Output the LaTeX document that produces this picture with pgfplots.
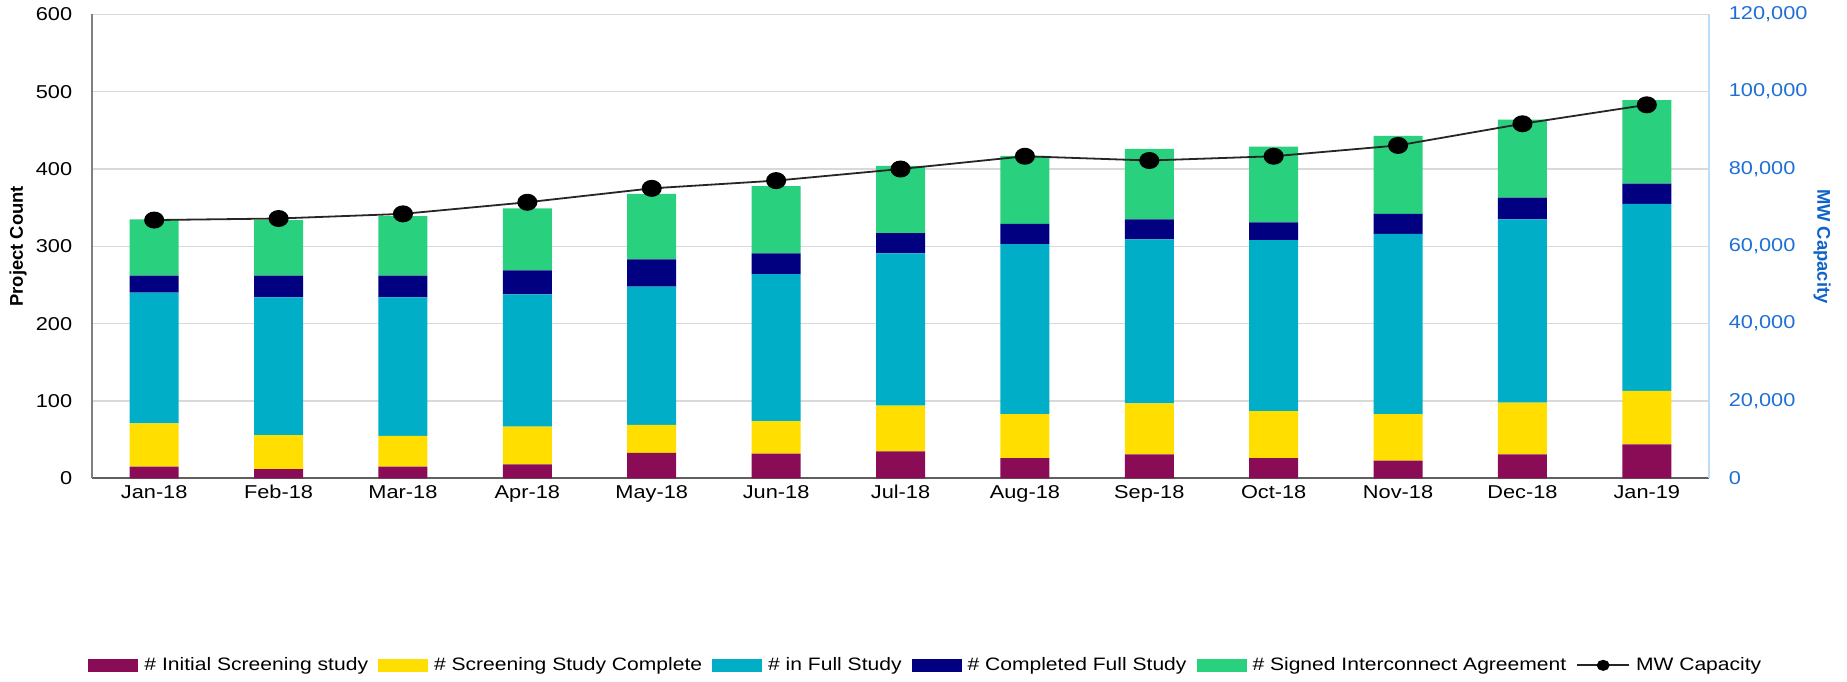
\documentclass[border=0pt]{standalone}
\usepackage{fontspec}
\setmainfont{Liberation Sans}[FakeStretch=1.17]
\newfontfamily\plainsans{Liberation Sans}
\usepackage{pgfplots}
\usepackage{pgfplotstable}
\pgfplotsset{compat=1.18}

\definecolor{cmag}{HTML}{8B0C56}
\definecolor{cyel}{HTML}{FFDE00}
\definecolor{ccyan}{HTML}{00AEC8}
\definecolor{cnavy}{HTML}{000080}
\definecolor{cgreen}{HTML}{29D07E}
\definecolor{gridgray}{HTML}{D9D9D9}
\definecolor{axisgray}{HTML}{5F5F5F}
\definecolor{lineblue}{HTML}{BDDDF7}
\definecolor{tickblue}{HTML}{1F6FD6}
\definecolor{labblue}{HTML}{0F63C9}

\newcommand\tfont{\fontsize{9.3}{11.2}\selectfont}

\pgfplotsset{
  barlegend/.style={legend image code/.code={\fill[##1] (0pt,-3.2pt) rectangle (25pt,3.2pt);}},
  mwlegend/.style={legend image code/.code={%
    \draw[##1, mark repeat=2, mark phase=2, mark size=2.3pt] plot coordinates {(0pt,0pt)(13pt,0pt)(26pt,0pt)};}},
}

% segment heights per month, MW on the right axis
\pgfplotstableread{
x  mag yel cyan navy green mw
0  15  56  169  22   73    66800
1  12  44  178  28   72    67200
2  15  40  179  28   77    68400
3  18  49  171  31   80    71400
4  33  36  179  35   85    75000
5  32  42  190  27   87    77000
6  35  59  197  26   87    80000
7  26  57  220  26   88    83300
8  31  66  212  26   91    82200
9  26  61  221  23   98    83300
10 23  60  233  26   101   86100
11 31  67  237  28   101   91700
12 44  69  242  26   108   96600
}\data

\begin{document}
\begin{tikzpicture}
\begin{axis}[
  scale only axis, width=808.5pt, height=232pt,
  xmin=-0.5, xmax=12.5, ymin=0, ymax=600,
  ybar stacked, bar width=24.5pt,
  axis x line*=bottom, axis y line*=left,
  x axis line style={draw=axisgray, line width=0.9pt, -},
  y axis line style={draw=axisgray!80, line width=0.9pt, -},
  xtick={0,...,12},
  xticklabels={Jan-18,Feb-18,Mar-18,Apr-18,May-18,Jun-18,Jul-18,Aug-18,Sep-18,Oct-18,Nov-18,Dec-18,Jan-19},
  ytick={0,100,...,600},
  major tick length=0pt,
  ymajorgrids, grid style={gridgray, line width=0.7pt},
  tick label style={font=\tfont},
  yticklabel style={xshift=-6.4pt},
  /pgf/number format/assume math mode=true,
  ylabel={\plainsans\bfseries\fontsize{9.2}{11}\selectfont Project Count},
  every axis y label/.style={at={(axis description cs:0,0.5)}, xshift=-37pt, rotate=90, anchor=center},
]
\addplot[fill=cmag, draw=none] table[x=x, y=mag]{\data};
\addplot[fill=cyel, draw=none] table[x=x, y=yel]{\data};
\addplot[fill=ccyan, draw=none] table[x=x, y=cyan]{\data};
\addplot[fill=cnavy, draw=none] table[x=x, y=navy]{\data};
\addplot[fill=cgreen, draw=none] table[x=x, y=green]{\data};
\coordinate (ll) at (rel axis cs:0,0);
\coordinate (ur) at (rel axis cs:1,1);
\end{axis}

\begin{axis}[
  scale only axis, width=808.5pt, height=232pt,
  xmin=-0.5, xmax=12.5, ymin=0, ymax=120000,
  axis x line=none, axis y line*=right,
  y axis line style={draw=lineblue, line width=0.9pt, -},
  ytick={0,20000,40000,60000,80000,100000,120000},
  scaled y ticks=false,
  major tick length=0pt,
  yticklabel style={font=\tfont, text=tickblue, xshift=6.4pt,
    /pgf/number format/.cd, fixed, 1000 sep={,}},
  /pgf/number format/assume math mode=true,
  ylabel={\plainsans\bfseries\fontsize{9.2}{11}\selectfont MW Capacity},
  every axis y label/.style={at={(axis description cs:1,0.5)}, xshift=56.5pt, rotate=-90, anchor=center, text=labblue},
  legend columns=6,
  legend cell align=left,
  legend style={at={(0.516,-0.403)}, anchor=center, draw=none, fill=none,
    inner sep=0pt, outer sep=0pt,
    font=\fontsize{9}{11}\selectfont,
    nodes={inner xsep=1.5pt, inner ysep=1pt},
    /tikz/every odd column/.append style={column sep=1.5pt},
    /tikz/every even column/.append style={column sep=3.5pt}},
]
\addlegendimage{barlegend, fill=cmag, draw=none}
\addlegendentry{\# Initial Screening study}
\addlegendimage{barlegend, fill=cyel, draw=none}
\addlegendentry{\# Screening Study Complete}
\addlegendimage{barlegend, fill=ccyan, draw=none}
\addlegendentry{\# in Full Study}
\addlegendimage{barlegend, fill=cnavy, draw=none}
\addlegendentry{\# Completed Full Study}
\addlegendimage{barlegend, fill=cgreen, draw=none}
\addlegendentry{\# Signed Interconnect Agreement}
\addplot[black!85, line width=0.9pt, mark=*, mark size=3.8pt,
  mark options={fill=black, draw=black, xscale=1.2}, mwlegend]
  table[x=x, y=mw]{\data};
\addlegendentry{MW Capacity}
\end{axis}
\path ([shift={(-46pt,-101.5pt)}]ll) rectangle ([shift={(69pt,7pt)}]ur);
\end{tikzpicture}
\end{document}
